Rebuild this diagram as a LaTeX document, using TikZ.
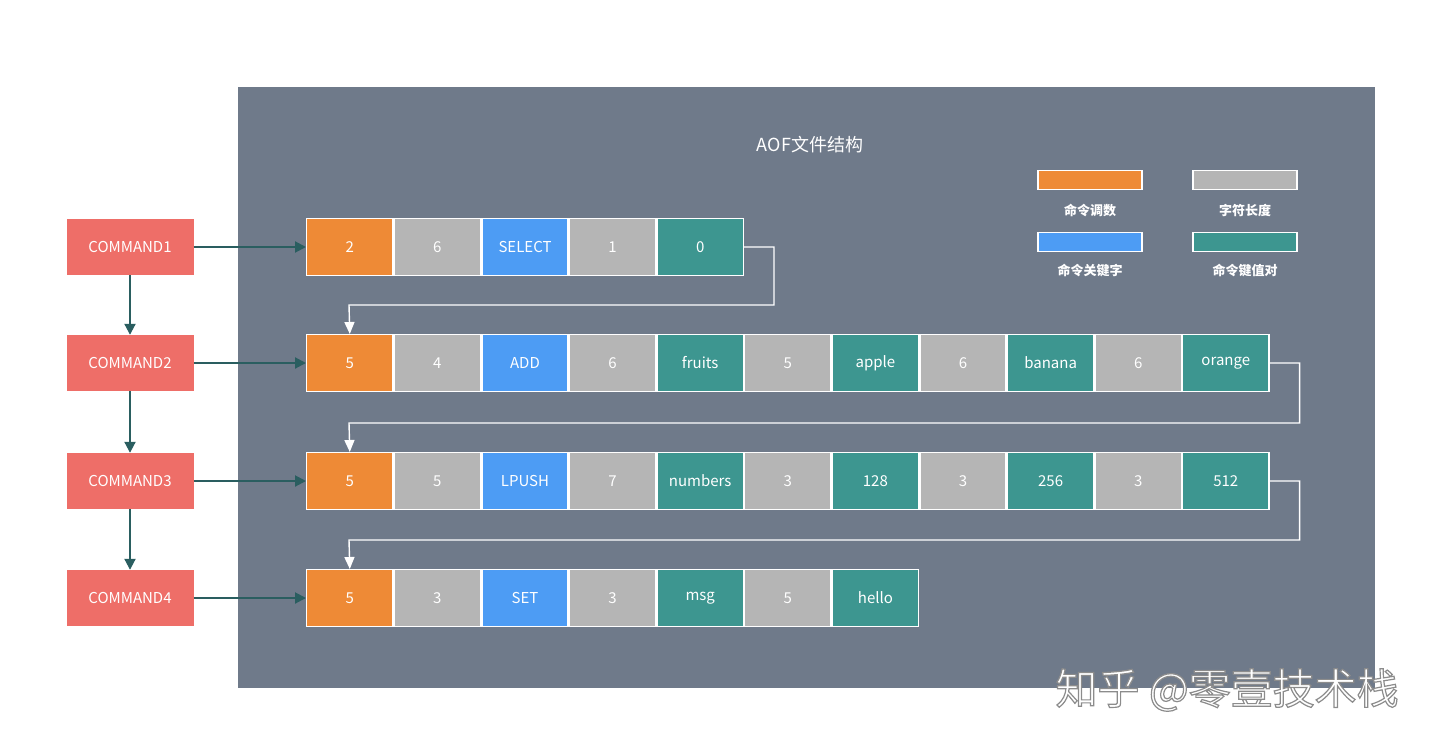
\documentclass[tikz,border=0pt]{standalone}
\usepackage{fontspec}
\setmainfont{Noto Sans CJK SC}
\usetikzlibrary{positioning,arrows.meta}
\definecolor{panel}  {HTML}{6F7A8A}
\definecolor{cntcol} {HTML}{EE8A36}
\definecolor{lencol} {HTML}{B5B5B5}
\definecolor{keycol} {HTML}{4D9CF4}
\definecolor{kvcol}  {HTML}{3D9690}
\definecolor{cmdcol} {HTML}{EE6E68}
\definecolor{flowcol}{HTML}{2A5E60}
\tikzset{
  % --- nodes
  cell/.style = {draw=white, line width=1.4pt, minimum width=86.2pt, minimum height=56.6pt,
                 inner sep=0pt, text=white, font=\fontsize{15}{18}\selectfont, anchor=west},
  cnt/.style  = {cell, fill=cntcol},
  len/.style  = {cell, fill=lencol},
  key/.style  = {cell, fill=keycol},
  kv/.style   = {cell, fill=kvcol},
  cmd/.style  = {fill=cmdcol, minimum width=127pt, minimum height=56pt, inner sep=0pt,
                 text=white, font=\fontsize{15}{18}\selectfont},
  swatch/.style = {draw=white, line width=1.4pt, minimum width=104pt, minimum height=19pt, inner sep=0pt},
  lgd/.style  = {text=white, font=\fontsize{13}{15}\selectfont\bfseries},
  % --- edges
  flow/.style = {-{Triangle[length=11pt,width=11pt]}, draw=flowcol, line width=2pt},
  wrap/.style = {-{Triangle[length=12pt,width=10pt]}, draw=white, line width=1.4pt},
}
\newcommand{\outlined}[1]{\special{pdf:code q 2 Tr 1.2 w 0.55 G}#1\special{pdf:code Q}}

\begin{document}
\begin{tikzpicture}[x=1pt,y=-1pt]
  \useasboundingbox (0,0) rectangle (1440,753);
  \fill[panel] (238,87) rectangle (1375,688);

  \node[text=white, font=\fontsize{18}{20}\selectfont] (title) at (810,145) {AOF文件结构};

  % --- legend
  \node[swatch, fill=cntcol] (s1) at (1090,180) {};
  \node[swatch, fill=lencol] (s2) at (1245,180) {};
  \node[swatch, fill=keycol] (s3) at (1090,242) {};
  \node[swatch, fill=kvcol]  (s4) at (1245,242) {};
  \node[lgd] (l1) at (1090,210) {命令调数};
  \node[lgd] (l2) at (1245,210) {字符长度};
  \node[lgd] (l3) at (1090,271) {命令关键字};
  \node[lgd] (l4) at (1245,271) {命令键值对};

  % --- commands
  \foreach \y [count=\i] in {247,363,481,598}
    \node[cmd] (cmd\i) at (130,\y) {COMMAND\i};
  \foreach \i/\j in {1/2,2/3,3/4}
    \draw[flow] (cmd\i) -- (cmd\j);

  % --- rows
  \foreach \t/\s [count=\k] in {2/cnt,6/len,SELECT/key,1/len,0/kv}
    \node[\s] (a\k) at ({306+87.6*(\k-1)},247) {\t};
  \foreach \t/\s [count=\k] in {5/cnt,4/len,ADD/key,6/len,fruits/kv,5/len,apple/kv,6/len,banana/kv,6/len,orange/kv}
    \node[\s] (b\k) at ({306+87.6*(\k-1)},363) {\t};
  \foreach \t/\s [count=\k] in {5/cnt,5/len,LPUSH/key,7/len,numbers/kv,3/len,128/kv,3/len,256/kv,3/len,512/kv}
    \node[\s] (c\k) at ({306+87.6*(\k-1)},481) {\t};
  \foreach \t/\s [count=\k] in {5/cnt,3/len,SET/key,3/len,msg/kv,5/len,hello/kv}
    \node[\s] (d\k) at ({306+87.6*(\k-1)},598) {\t};

  \draw[flow] (cmd1) -- (a1);
  \draw[flow] (cmd2) -- (b1);
  \draw[flow] (cmd3) -- (c1);
  \draw[flow] (cmd4) -- (d1);

  % --- wrap-around links
  \draw[wrap] (a5.east) -- ++(30,0) |- (349,305) -- (b1.north);
  \draw[wrap] (b11.east) -- ++(30,0) |- (349,423) -- (c1.north);
  \draw[wrap] (c11.east) -- ++(30,0) |- (349,540) -- (d1.north);

  % --- watermark
  \node[text=white, font=\fontsize{42}{45}\selectfont, anchor=west] (wm) at (1052,690) {\outlined{知乎 @零壹技术栈}};
\end{tikzpicture}
\end{document}
